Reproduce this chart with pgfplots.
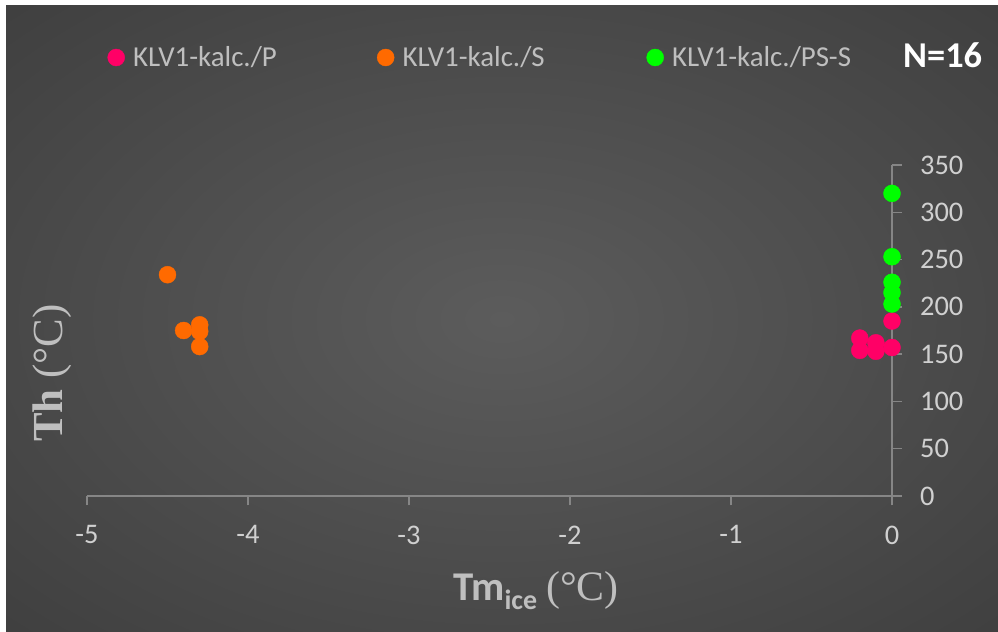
\documentclass[border=0pt]{standalone}
\usepackage{fontspec}
\setmainfont{Carlito}
\newfontfamily\serifff{Liberation Serif}
\usepackage{pgfplots}
\pgfplotsset{compat=1.18}
\definecolor{pinkc}{HTML}{FF0066}
\definecolor{orangec}{HTML}{FF6A00}
\definecolor{greenc}{HTML}{00FF00}
\definecolor{axgray}{HTML}{868686}
\definecolor{lblgray}{HTML}{D0D0D0}
\definecolor{titlegray}{HTML}{BFBFBF}
\definecolor{bgin}{HTML}{5C5C5C}
\definecolor{bgmid}{HTML}{343434}
\definecolor{bgout}{HTML}{262626}
\pgfdeclareradialshading{bgshade}{\pgfpoint{0bp}{0bp}}{color(0bp)=(bgin); color(50bp)=(bgmid); color(71bp)=(bgout); color(100bp)=(bgout)}
\begin{document}
\begin{tikzpicture}
\useasboundingbox (0,0) rectangle (998bp,632bp);
\fill[white] (0,0) rectangle (998bp,632bp);
\shade[shading=bgshade] (6bp,0) rectangle (998bp,626bp);
\begin{axis}[
  at={(87bp,136bp)}, anchor=south west,
  scale only axis, width=805bp, height=331bp,
  xmin=-5, xmax=0, ymin=0, ymax=350,
  axis x line*=bottom, axis y line*=right,
  axis line style={axgray, line width=1.5bp, -},
  tick align=outside, major tick length=9.5bp,
  tick style={axgray, line width=1.5bp},
  xtick={-5,-4,-3,-2,-1,0}, ytick={0,50,...,350},
  hide obscured x ticks=false, hide obscured y ticks=false,
  /pgf/number format/assume math mode=true,
  ticklabel style={font=\fontsize{28.5}{33}\selectfont, text=lblgray},
  xticklabel style={anchor=north, inner sep=0pt, yshift=-20bp},
  yticklabel style={anchor=west, inner sep=0pt, xshift=18.5bp},
  clip=false,
  legend columns=3,
  legend style={at={(0,1)}, anchor=west, xshift=20.5bp, yshift=107.5bp,
    draw=none, fill=none, inner sep=0pt,
    font=\fontsize{29}{33}\selectfont, text=titlegray,
    /tikz/every odd column/.append style={column sep=6.5bp}},
]
\addplot[only marks, mark=*, mark size=8.5bp, color=pinkc] coordinates {
(0,185) (0,157) (-0.1,162) (-0.1,153) (-0.2,167) (-0.2,154)};
\addlegendentry{\makebox[242bp][l]{KLV1-kalc./P}}
\addplot[only marks, mark=*, mark size=8.5bp, color=orangec] coordinates {
(-4.5,234) (-4.4,175) (-4.3,181) (-4.3,174) (-4.3,158)};
\addlegendentry{\makebox[242bp][l]{KLV1-kalc./S}}
\addplot[only marks, mark=*, mark size=8.5bp, color=greenc] coordinates {
(0,320) (0,253) (0,226) (0,215) (0,203)};
\addlegendentry{\makebox[242bp][l]{KLV1-kalc./PS-S}}
\end{axis}
\node[anchor=base west, text=white, inner sep=0pt, font=\fontsize{36.5}{42}\selectfont\bfseries] at (903bp,564bp) {N=16};
\node[anchor=base west, text=titlegray, inner sep=0pt] at (453bp,32bp) {\fontsize{41}{48}\selectfont\textbf{Tm}\raisebox{-9bp}{\fontsize{28}{30}\selectfont\bfseries ice}\hspace{9bp}{\serifff\fontsize{42}{48}\selectfont (°C)}};
\node[rotate=90, anchor=base, text=titlegray, inner sep=0pt] at (62bp,259bp) {\serifff\fontsize{43}{48}\selectfont\textbf{Th} (°C)};
\end{tikzpicture}
\end{document}
